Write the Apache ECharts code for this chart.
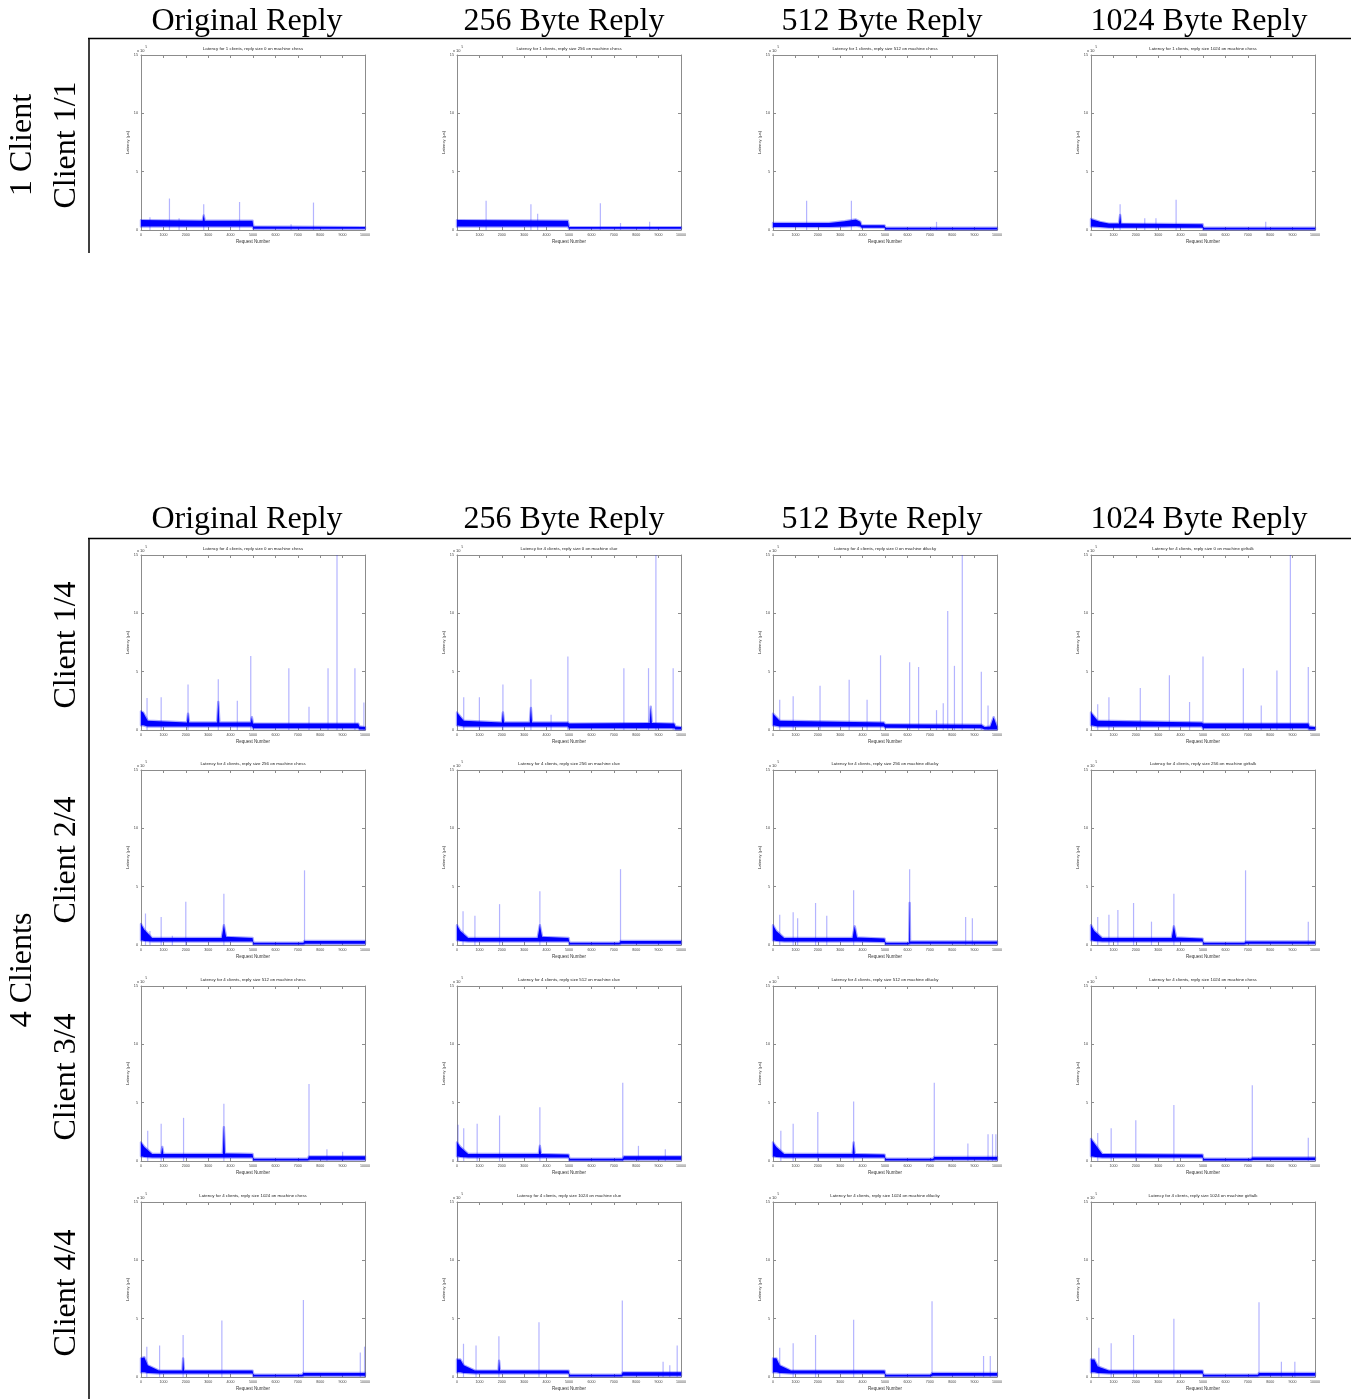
<!DOCTYPE html>
<html>
<head>
<meta charset="utf-8">
<title>Latency per request</title>
<script src="https://cdn.jsdelivr.net/npm/echarts/dist/echarts.min.js"></script>
<style>
html, body { margin: 0; padding: 0; background: #fff; }
#main { width: 1351px; height: 1399px; }
</style>
</head>
<body>
<div id="main"></div>
<script>
// headings
var colHeads = ['Original Reply', '256 Byte Reply', '512 Byte Reply', '1024 Byte Reply'];
var groupHeads = ['1 Client', '4 Clients'];
var rowHeads = ['Client 1/1', 'Client 1/4', 'Client 2/4', 'Client 3/4', 'Client 4/4'];

// sub plot titles
var titles1C = [
  'Latency for 1 clients, reply size 0 on machine chess',
  'Latency for 1 clients, reply size 256 on machine chess',
  'Latency for 1 clients, reply size 512 on machine chess',
  'Latency for 1 clients, reply size 1024 on machine chess'
];
var titles4C = [
  ['Latency for 4 clients, reply size 0 on machine chess', 'Latency for 4 clients, reply size 0 on machine clue',
   'Latency for 4 clients, reply size 0 on machine dilucky', 'Latency for 4 clients, reply size 0 on machine girltalk'],
  ['Latency for 4 clients, reply size 256 on machine chess', 'Latency for 4 clients, reply size 256 on machine clue',
   'Latency for 4 clients, reply size 256 on machine dilucky', 'Latency for 4 clients, reply size 256 on machine girltalk'],
  ['Latency for 4 clients, reply size 512 on machine chess', 'Latency for 4 clients, reply size 512 on machine clue',
   'Latency for 4 clients, reply size 512 on machine dilucky', 'Latency for 4 clients, reply size 1024 on machine chess'],
  ['Latency for 4 clients, reply size 1024 on machine chess', 'Latency for 4 clients, reply size 1024 on machine clue',
   'Latency for 4 clients, reply size 1024 on machine dilucky', 'Latency for 4 clients, reply size 1024 on machine girltalk']
];

// axis ranges (latency in units of 10^5 us)
var xMax = 10000, xStep = 1000;
var yMax = 15, yStep = 5;

// dense band of each trace: [request, low, high]
var bands1C = [
  [[0,0.3,0.85],[2750,0.3,0.8],[2800,0.3,1.25],[2850,0.3,0.8],[4980,0.3,0.8],[5020,0.1,0.3],[10000,0.1,0.25]],
  [[0,0.3,0.85],[4950,0.3,0.8],[5000,0.1,0.25],[10000,0.1,0.25]],
  [[0,0.25,0.6],[2500,0.25,0.6],[3200,0.3,0.75],[3700,0.35,0.9],[3900,0.3,0.7],[3950,0.2,0.4],[4980,0.2,0.4],[5020,0.05,0.2],[10000,0.05,0.2]],
  [[0,0.3,0.95],[400,0.25,0.7],[800,0.2,0.55],[1250,0.2,0.55],[1300,0.2,1.3],[1350,0.2,0.55],[4980,0.2,0.5],[5020,0.05,0.2],[10000,0.05,0.2]]
];
// single peaks: [request, height]
var spikes1C = [
  [[400,1.1],[1270,2.7],[1700,1.0],[2800,2.2],[4400,2.4],[6700,0.5],[7700,2.35]],
  [[1300,2.5],[3300,2.2],[3600,1.4],[6400,2.3],[7300,0.6],[8600,0.7]],
  [[1500,2.5],[3500,2.5],[7300,0.7]],
  [[1300,2.2],[2400,1.0],[2900,1.0],[3800,2.6],[7800,0.7]]
];

var bandsSize0 = [
  [[0,0.4,1.6],[100,0.4,1.5],[300,0.3,0.8],[2050,0.3,0.65],[2100,0.3,1.4],[2150,0.3,0.65],[3400,0.3,0.65],[3450,0.3,2.4],
   [3500,0.3,0.65],[4900,0.3,0.65],[4950,0.3,1.1],[5000,0.15,0.55],[9700,0.15,0.55],[9750,0.05,0.3],[10000,0.05,0.25]],
  [[0,0.4,1.5],[300,0.3,0.8],[2000,0.3,0.65],[2050,0.3,1.5],[2100,0.3,0.65],[3250,0.3,0.65],[3300,0.3,1.9],[3350,0.3,0.65],
   [4950,0.3,0.65],[5000,0.15,0.55],[8600,0.15,0.6],[8650,0.15,2.0],[8700,0.15,0.6],[9700,0.15,0.55],[9750,0.05,0.3],[10000,0.05,0.25]],
  [[0,0.4,1.4],[300,0.3,0.8],[4950,0.3,0.65],[5000,0.2,0.5],[9300,0.15,0.45],[9450,0.05,0.25],[9700,0.05,0.3],[9850,0.05,1.1],[10000,0.05,0.3]],
  [[0,0.4,1.5],[300,0.3,0.8],[4950,0.3,0.65],[5000,0.15,0.55],[9700,0.15,0.55],[9750,0.05,0.3],[10000,0.05,0.25]]
];
var spikesSize0 = [
  [[270,2.75],[900,2.8],[2100,3.9],[3450,4.35],[4300,2.5],[4900,6.35],[6600,5.3],[7500,2.0],[8350,5.3],[8750,15],[9550,5.3],[9950,2.35]],
  [[300,2.8],[1000,2.8],[2050,3.9],[3300,4.35],[4200,1.3],[4950,6.3],[7450,5.3],[8550,5.3],[8880,15],[9650,5.3]],
  [[300,2.6],[900,2.9],[2100,3.8],[3400,4.3],[4200,2.6],[4800,6.4],[6100,5.8],[6500,5.4],[7300,1.7],[7600,2.3],[7800,10.2],
   [8100,5.5],[8450,15],[9300,5.0],[9600,2.1]],
  [[300,2.2],[800,2.8],[2200,3.6],[3500,4.7],[4400,2.4],[5000,6.3],[6800,5.3],[7600,2.1],[8300,5.1],[8900,15],[9700,5.4]]
];

var bandsSize256 = [
  [[0,0.4,1.8],[150,0.35,1.3],[500,0.3,0.6],[3600,0.3,0.6],[3700,0.3,1.7],[3800,0.3,0.7],[4980,0.3,0.6],[5020,0.05,0.2],
   [7250,0.05,0.2],[7300,0.1,0.35],[10000,0.1,0.35]],
  [[0,0.4,1.7],[150,0.35,1.2],[500,0.3,0.6],[3600,0.3,0.6],[3700,0.3,1.7],[3800,0.3,0.7],[4980,0.3,0.6],[5020,0.05,0.2],
   [7250,0.05,0.2],[7300,0.1,0.35],[10000,0.1,0.35]],
  [[0,0.4,1.7],[150,0.35,1.2],[500,0.3,0.6],[3550,0.3,0.6],[3650,0.3,1.6],[3750,0.3,0.65],[4980,0.25,0.55],[5020,0.05,0.2],
   [6050,0.05,0.2],[6080,0.1,0.3],[6100,0.1,3.6],[6120,0.1,0.3],[10000,0.1,0.3]],
  [[0,0.4,1.7],[150,0.35,1.2],[500,0.3,0.6],[3600,0.3,0.6],[3700,0.3,1.6],[3800,0.3,0.65],[4980,0.3,0.55],[5020,0.05,0.2],
   [6850,0.05,0.2],[6900,0.1,0.3],[10000,0.1,0.3]]
];
var spikesSize256 = [
  [[200,2.7],[400,1.2],[900,2.4],[1400,0.8],[2000,3.7],[3700,4.4],[7300,6.4]],
  [[270,2.9],[800,2.5],[1900,3.5],[3700,4.6],[7300,6.5]],
  [[300,2.6],[900,2.8],[1100,2.3],[1900,3.6],[2400,2.5],[3600,4.7],[6100,6.5],[8600,2.4],[8900,2.3]],
  [[300,2.4],[800,2.6],[1200,3.0],[1900,3.6],[2700,2.0],[3700,4.4],[6900,6.4],[9700,2.0]]
];

var bandsSize512 = [
  [[0,0.4,1.6],[150,0.35,1.2],[500,0.3,0.6],[900,0.3,0.6],[950,0.3,1.2],[1000,0.3,0.6],[3650,0.3,0.6],[3700,0.3,2.9],
   [3750,0.3,0.65],[4980,0.3,0.6],[5020,0.05,0.2],[7450,0.05,0.2],[7500,0.1,0.4],[10000,0.1,0.4]],
  [[0,0.4,1.6],[150,0.35,1.2],[500,0.3,0.6],[3650,0.3,0.6],[3700,0.3,1.3],[3750,0.3,0.6],[4980,0.3,0.55],[5020,0.05,0.2],
   [7400,0.05,0.2],[7450,0.1,0.4],[10000,0.1,0.4]],
  [[0,0.4,1.6],[150,0.35,1.2],[500,0.3,0.6],[3550,0.3,0.6],[3600,0.3,1.6],[3650,0.3,0.6],[4980,0.3,0.55],[5020,0.05,0.2],
   [7150,0.05,0.2],[7200,0.1,0.35],[10000,0.1,0.35]],
  [[0,0.4,1.9],[200,0.35,1.4],[500,0.3,0.6],[4980,0.3,0.55],[5020,0.05,0.2],[7150,0.05,0.2],[7200,0.08,0.3],[10000,0.08,0.3]]
];
var spikesSize512 = [
  [[300,2.6],[900,3.2],[1900,3.7],[3700,4.9],[7500,6.6],[8300,1.0],[9000,0.8]],
  [[50,3.1],[300,2.8],[900,3.2],[1900,3.9],[3700,4.6],[7400,6.7],[8100,1.3],[9300,1.0]],
  [[350,2.6],[900,3.2],[2000,4.2],[3600,5.1],[7200,6.7],[8700,1.5],[9600,2.3],[9800,2.3],[9950,2.3]],
  [[300,2.4],[900,2.8],[2000,3.5],[3700,4.8],[7200,6.5],[9700,2.0]]
];

var bandsSize1024 = [
  [[0,0.4,1.6],[150,0.4,1.7],[300,0.35,1.0],[800,0.3,0.55],[1850,0.3,0.55],[1880,0.3,1.6],[1920,0.3,0.55],[4980,0.3,0.55],
   [5020,0.05,0.2],[7200,0.05,0.2],[7250,0.1,0.35],[10000,0.1,0.35]],
  [[0,0.4,1.5],[150,0.4,1.5],[300,0.35,1.0],[800,0.3,0.55],[1850,0.3,0.55],[1880,0.3,1.4],[1920,0.3,0.55],[4980,0.3,0.55],
   [5020,0.05,0.2],[7350,0.05,0.2],[7400,0.1,0.4],[10000,0.1,0.4]],
  [[0,0.4,1.6],[150,0.4,1.6],[300,0.35,1.0],[800,0.3,0.55],[4980,0.3,0.55],[5020,0.05,0.2],[7050,0.05,0.2],[7100,0.1,0.35],
   [10000,0.1,0.35]],
  [[0,0.4,1.5],[150,0.4,1.5],[300,0.35,0.9],[800,0.3,0.55],[4980,0.3,0.55],[5020,0.05,0.2],[7450,0.05,0.2],[7500,0.1,0.35],
   [10000,0.1,0.35]]
];
var spikesSize1024 = [
  [[260,2.6],[830,2.7],[1880,3.6],[3610,4.85],[7250,6.6],[9790,2.1],[9980,2.6]],
  [[290,2.85],[850,2.7],[1870,3.5],[3660,4.7],[7380,6.55],[9200,1.3],[9500,1.0],[9830,2.7]],
  [[300,2.5],[900,2.9],[1900,3.6],[3600,4.9],[7100,6.5],[9400,1.8],[9700,1.8]],
  [[350,2.5],[900,2.9],[1900,3.6],[3700,5.0],[7500,6.4],[8500,1.3],[9100,1.3]]
];

// layout of the sub plots
var colLeft = [141, 457, 773, 1091];
var rowTop = [55, 555, 770, 986, 1202];
var gridW = 224, gridH = 175;
var axisColor = '#8c8c8c';
var smallFont = 'Liberation Sans';
var bigFont = 'Liberation Serif';

var bands4C = [bandsSize0, bandsSize256, bandsSize512, bandsSize1024];
var spikes4C = [spikesSize0, spikesSize256, spikesSize512, spikesSize1024];

var plots = [];
for (var c = 0; c < 4; c++) {
  plots.push({ r: 0, c: c, title: titles1C[c], band: bands1C[c], spikes: spikes1C[c] });
}
for (var r = 0; r < 4; r++) {
  for (var c2 = 0; c2 < 4; c2++) {
    plots.push({ r: r + 1, c: c2, title: titles4C[r][c2], band: bands4C[r][c2], spikes: spikes4C[r][c2] });
  }
}

var grid = [], xAxis = [], yAxis = [], series = [], graphic = [];

function axisBase(extra) {
  var a = {
    type: 'value',
    axisLine: { show: true, onZero: false, lineStyle: { color: axisColor, width: 1 } },
    axisTick: { show: true, inside: true, length: 3, lineStyle: { color: axisColor } },
    splitLine: { show: false },
    axisLabel: { show: false }
  };
  for (var k in extra) a[k] = extra[k];
  return a;
}

plots.forEach(function (p, i) {
  var left = colLeft[p.c], top = rowTop[p.r];
  grid.push({ left: left, top: top, width: gridW, height: gridH });

  xAxis.push(axisBase({
    gridIndex: i, position: 'bottom', min: 0, max: xMax, interval: xStep,
    axisLabel: { show: true, fontSize: 3.6, margin: 3, color: '#444', fontFamily: smallFont,
      formatter: function (v) { return String(v); } },
    name: 'Request Number', nameLocation: 'middle', nameGap: 9,
    nameTextStyle: { fontSize: 4.5, color: '#333', fontFamily: smallFont }
  }));
  xAxis.push(axisBase({ gridIndex: i, position: 'top', min: 0, max: xMax, interval: xStep }));
  yAxis.push(axisBase({
    gridIndex: i, position: 'left', min: 0, max: yMax, interval: yStep,
    axisLabel: { show: true, fontSize: 3.8, margin: 3, color: '#444', fontFamily: smallFont },
    name: 'Latency (µs)', nameLocation: 'middle', nameGap: 11, nameRotate: 90,
    nameTextStyle: { fontSize: 4.2, color: '#333', fontFamily: smallFont }
  }));
  yAxis.push(axisBase({ gridIndex: i, position: 'right', min: 0, max: yMax, interval: yStep }));

  // thin light peaks
  series.push({
    type: 'custom', xAxisIndex: 2 * i, yAxisIndex: 2 * i, silent: true, z: 2,
    data: p.spikes,
    encode: { x: 0, y: 1 },
    renderItem: function (params, api) {
      var a = api.coord([api.value(0), 0]);
      var b = api.coord([api.value(0), api.value(1)]);
      return {
        type: 'line',
        shape: { x1: a[0], y1: a[1], x2: b[0], y2: b[1] },
        style: { stroke: 'rgba(40,40,255,0.35)', lineWidth: 1.2 }
      };
    }
  });

  // dense band of the trace
  var band = p.band;
  series.push({
    type: 'custom', xAxisIndex: 2 * i, yAxisIndex: 2 * i, silent: true, z: 3,
    data: band.map(function (d) { return [d[0], d[2]]; }),
    encode: { x: 0, y: 1 },
    renderItem: function (params, api) {
      if (params.dataIndex !== 0) return null;
      var pts = [];
      band.forEach(function (d) { pts.push(api.coord([d[0], d[2]])); });
      for (var k = band.length - 1; k >= 0; k--) pts.push(api.coord([band[k][0], band[k][1]]));
      return {
        type: 'polygon',
        shape: { points: pts },
        style: { fill: '#0000ff', stroke: 'rgba(0,0,255,0.35)', lineWidth: 2.4, lineJoin: 'round' }
      };
    }
  });

  // title and exponent label
  graphic.push({
    type: 'text', x: left + gridW / 2, y: top - 6,
    style: { text: p.title, fontSize: 4.4, fontFamily: smallFont, fill: '#222',
      textAlign: 'center', textVerticalAlign: 'middle', align: 'center', verticalAlign: 'middle' }
  });
  graphic.push({
    type: 'text', x: left - 4, y: top - 4,
    style: { text: 'x 10', fontSize: 4, fontFamily: smallFont, fill: '#333',
      textAlign: 'left', textVerticalAlign: 'middle', align: 'left', verticalAlign: 'middle' }
  });
  graphic.push({
    type: 'text', x: left + 4.5, y: top - 8,
    style: { text: '5', fontSize: 3, fontFamily: smallFont, fill: '#333',
      textAlign: 'left', textVerticalAlign: 'middle', align: 'left', verticalAlign: 'middle' }
  });
});

// column headings over both blocks
var headCenters = [247, 564, 882, 1199];
[21.5, 519.5].forEach(function (y) {
  headCenters.forEach(function (x, k) {
    graphic.push({
      type: 'text', x: x, y: y,
      style: { text: colHeads[k], fontSize: 32, fontFamily: bigFont, fill: '#000',
        textAlign: 'center', textVerticalAlign: 'middle', align: 'center', verticalAlign: 'middle' }
    });
  });
});

// rotated row headings
function vText(txt, x, y) {
  graphic.push({
    type: 'text', x: x, y: y, rotation: Math.PI / 2,
    style: { text: txt, fontSize: 32, fontFamily: bigFont, fill: '#000',
      textAlign: 'center', textVerticalAlign: 'middle', align: 'center', verticalAlign: 'middle' }
  });
}
vText(groupHeads[0], 23, 145);
vText(groupHeads[1], 23, 970);
var rowCenters = [145, 645, 860, 1077, 1293];
rowHeads.forEach(function (t, k) { vText(t, 67, rowCenters[k]); });

// frame lines of the table
function hv(x1, y1, x2, y2) {
  graphic.push({
    type: 'line', shape: { x1: x1, y1: y1, x2: x2, y2: y2 },
    style: { stroke: '#000', lineWidth: 1.5 }
  });
}
hv(88, 38.5, 1351, 38.5);
hv(89, 38, 89, 253);
hv(88, 538.5, 1351, 538.5);
hv(89, 538, 89, 1399);

var myChart = echarts.init(document.getElementById('main'));
myChart.setOption({
  animation: false,
  backgroundColor: '#fff',
  grid: grid,
  xAxis: xAxis,
  yAxis: yAxis,
  series: series,
  graphic: graphic
});
</script>
</body>
</html>
